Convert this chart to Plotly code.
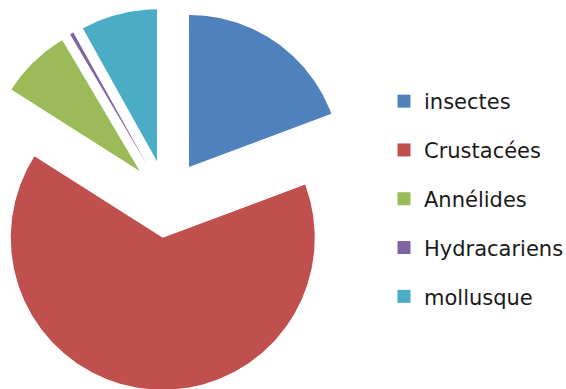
import numpy as np
import plotly.graph_objects as go

# Composition of the collected fauna (percent of individuals)
groups = ["insectes", "Crustacées", "Annélides", "Hydracariens", "mollusque"]
shares = [19.3, 64.7, 7.5, 0.4, 8.1]
colors = ["#4F81BD", "#C0504D", "#9BBB59", "#8064A2", "#4BACC6"]

# Pie geometry in pixel space (axes map 1 unit = 1 px)
W, H = 566, 389
CX, CY = 166.8, 199.0
RADIUS = 152.0
EXPLODE = 39.0

fig = go.Figure()

total = float(sum(shares))
start = 0.0  # degrees, clockwise from 12 o'clock
for name, val, col in zip(groups, shares, colors):
    span = 360.0 * val / total
    end = start + span
    mid = np.radians(start + span / 2)
    ax = CX + EXPLODE * np.sin(mid)
    ay = CY - EXPLODE * np.cos(mid)
    theta = np.radians(np.linspace(start, end, max(int(span * 2), 4)))
    xs = np.concatenate([[ax], ax + RADIUS * np.sin(theta), [ax]])
    ys = np.concatenate([[ay], ay - RADIUS * np.cos(theta), [ay]])
    fig.add_trace(go.Scatter(
        x=xs, y=ys, mode="lines", fill="toself", fillcolor=col,
        line=dict(width=0, color=col), hoverinfo="skip", showlegend=False,
    ))
    start = end

# Legend entries as square swatches
for i, (name, col) in enumerate(zip(groups, colors)):
    fig.add_trace(go.Scatter(
        x=[None], y=[None], mode="markers", name=name, legendgroup=f"g{i}",
        marker=dict(symbol="square", size=13, color=col),
    ))

fig.update_layout(
    width=W, height=H,
    margin=dict(l=0, r=0, t=0, b=0, autoexpand=False),
    paper_bgcolor="white", plot_bgcolor="white",
    xaxis=dict(range=[0, W], visible=False, fixedrange=True),
    yaxis=dict(range=[H, 0], visible=False, fixedrange=True),
    showlegend=True,
    legend=dict(
        x=384 / W, y=1 - 81 / H, xanchor="left", yanchor="top",
        font=dict(family="DejaVu Sans", size=21, color="#1a1a1a"),
        traceorder="grouped", tracegroupgap=18.5,
        bgcolor="rgba(0,0,0,0)", itemclick=False, itemdoubleclick=False,
    ),
)

fig.write_html("out.html")
